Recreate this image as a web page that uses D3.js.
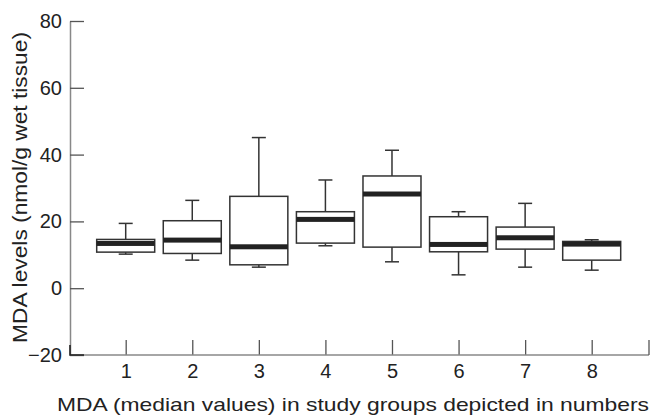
<!DOCTYPE html>
<html>
<head>
<meta charset="utf-8">
<script src="https://cdn.jsdelivr.net/npm/d3@7"></script>
<style>
  html, body { margin: 0; padding: 0; background: #fff; }
  svg { display: block; font-family: "Liberation Sans", Arial, Helvetica, sans-serif; }
</style>
</head>
<body>
<svg id="chart" width="654" height="417"></svg>
<script>
// ---- data ----
const groups       = [1, 2, 3, 4, 5, 6, 7, 8];
const whiskerHigh  = [19.4, 26.3, 45.1, 32.4, 41.3, 22.9, 25.4, 14.5];
const q3Values     = [14.6, 20.2, 27.5, 22.9, 33.6, 21.4, 18.3, 14.0];
const medianValues = [13.4, 14.4, 12.4, 20.6, 28.2, 13.1, 15.1, 13.2];
const q1Values     = [10.8, 10.4, 7.0, 13.5, 12.3, 10.9, 11.7, 8.4];
const whiskerLow   = [10.2, 8.4, 6.3, 12.7, 7.9, 4.0, 6.3, 5.4];
const yTicks       = [-20, 0, 20, 40, 60, 80];
const yLabel = "MDA levels (nmol/g wet tissue)";
const xLabel = "MDA (median values) in study groups depicted in numbers";

// ---- layout ----
const svg = d3.select("#chart");
const yAxisX = 70, xAxisY = 355, xAxisEnd = 649;
const y = d3.scaleLinear().domain([-20, 80]).range([355, 21]);
const x = d3.scaleLinear().domain([1, 8]).range([125.7, 591.7]);
const boxW = 58, capW = 14, medH = 5;
const tickFont = 20;

// y axis
const yAxis = d3.axisLeft(y).tickValues(yTicks).tickSizeInner(-14).tickSizeOuter(0).tickPadding(8)
  .tickFormat(d => d < 0 ? "\u2212" + Math.abs(d) : d);
const gy = svg.append("g").attr("transform", `translate(${yAxisX},0)`).call(yAxis);
gy.select(".domain").attr("stroke", "#888").attr("stroke-width", 1.5);
gy.selectAll(".tick line").attr("stroke", "#555").attr("stroke-width", 1.3);
gy.selectAll(".tick text").attr("font-size", tickFont).attr("fill", "#222")
  .attr("font-family", "Liberation Sans, Arial, sans-serif");

// x axis
const xAxis = d3.axisBottom(x).tickValues(groups).tickSizeInner(-15).tickSizeOuter(0).tickPadding(9)
  .tickFormat(d3.format("d"));
const gx = svg.append("g").attr("transform", `translate(0,${xAxisY})`).call(xAxis);
gx.select(".domain").remove();
gx.append("line").attr("x1", yAxisX).attr("x2", xAxisEnd).attr("y1", 0).attr("y2", 0)
  .attr("stroke", "#888").attr("stroke-width", 1.5);
gx.append("line").attr("x1", xAxisEnd).attr("x2", xAxisEnd).attr("y1", 0).attr("y2", -15)
  .attr("stroke", "#555").attr("stroke-width", 1.3);
gx.selectAll(".tick line").attr("stroke", "#555").attr("stroke-width", 1.3);
gx.selectAll(".tick text").attr("font-size", tickFont).attr("fill", "#222")
  .attr("font-family", "Liberation Sans, Arial, sans-serif");
// dark corner
svg.append("path").attr("d", `M${yAxisX},${xAxisY - 10}V${xAxisY}H${yAxisX + 14}`)
  .attr("fill", "none").attr("stroke", "#222").attr("stroke-width", 1.6);

// boxes
const data = groups.map((g, i) => ({
  g, hi: whiskerHigh[i], q3: q3Values[i], med: medianValues[i], q1: q1Values[i], lo: whiskerLow[i]
}));
const bx = svg.append("g").selectAll("g").data(data).join("g");
const stroke = "#333";
bx.append("line").attr("x1", d => x(d.g)).attr("x2", d => x(d.g))
  .attr("y1", d => y(d.hi)).attr("y2", d => y(d.q3)).attr("stroke", stroke).attr("stroke-width", 1.5);
bx.append("line").attr("x1", d => x(d.g)).attr("x2", d => x(d.g))
  .attr("y1", d => y(d.q1)).attr("y2", d => y(d.lo)).attr("stroke", stroke).attr("stroke-width", 1.5);
bx.append("line").attr("x1", d => x(d.g) - capW / 2).attr("x2", d => x(d.g) + capW / 2)
  .attr("y1", d => y(d.hi)).attr("y2", d => y(d.hi)).attr("stroke", stroke).attr("stroke-width", 1.5);
bx.append("line").attr("x1", d => x(d.g) - capW / 2).attr("x2", d => x(d.g) + capW / 2)
  .attr("y1", d => y(d.lo)).attr("y2", d => y(d.lo)).attr("stroke", stroke).attr("stroke-width", 1.5);
bx.append("rect").attr("x", d => x(d.g) - boxW / 2).attr("width", boxW)
  .attr("y", d => y(d.q3)).attr("height", d => y(d.q1) - y(d.q3))
  .attr("fill", "#fff").attr("stroke", stroke).attr("stroke-width", 1.5);
bx.append("rect").attr("x", d => x(d.g) - boxW / 2).attr("width", boxW)
  .attr("y", d => y(d.med) - medH / 2).attr("height", medH).attr("fill", "#222");

// axis titles
svg.append("text").attr("x", 57).attr("y", 411).attr("font-size", 18.5).attr("fill", "#222")
  .attr("textLength", 592).attr("lengthAdjust", "spacingAndGlyphs").text(xLabel);
svg.append("text").attr("transform", `translate(27,${(32 + 343) / 2}) rotate(-90)`)
  .attr("text-anchor", "middle").attr("font-size", 20).attr("fill", "#222")
  .attr("textLength", 311).attr("lengthAdjust", "spacingAndGlyphs").text(yLabel);
</script>
</body>
</html>
